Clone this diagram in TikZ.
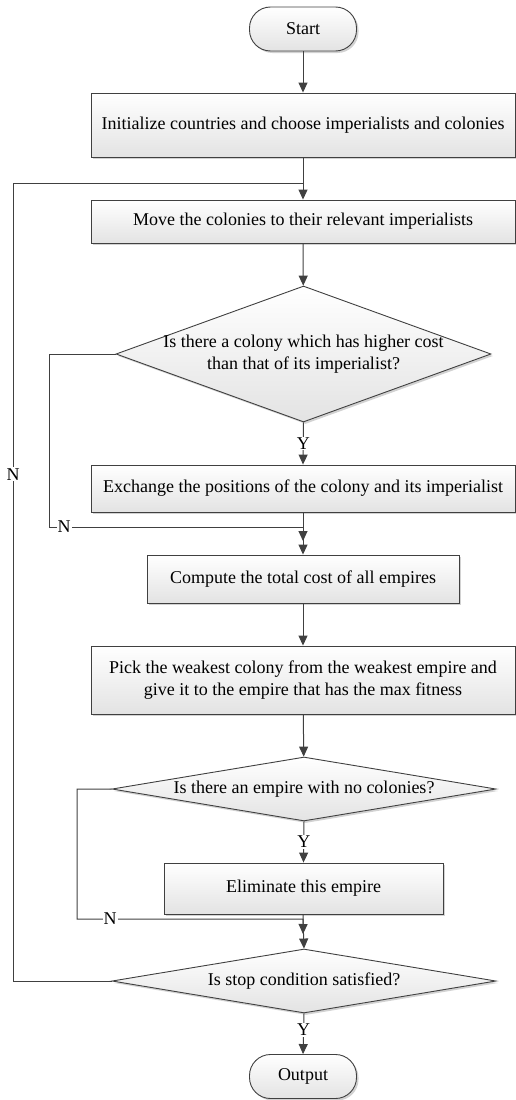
\documentclass[tikz,border=0pt]{standalone}
\usepackage{fontspec}
\setmainfont{Liberation Serif}
\usetikzlibrary{shapes.geometric,arrows.meta,shadows}
\definecolor{ln}{HTML}{404040}
\tikzset{
  base/.style={draw=ln, line width=0.9pt, top color=white, bottom color=gray!22,
    drop shadow={shadow xshift=2pt, shadow yshift=-2pt, fill=gray!50, opacity=0.7},
    font=\fontsize{18}{22}\selectfont, align=center, inner sep=0pt},
  procbox/.style={base, rectangle},
  term/.style={base, rectangle, rounded corners=21pt, minimum width=107pt, minimum height=44pt},
  dia/.style={base, diamond, inner sep=0pt},
  conn/.style={draw=ln, line width=1pt},
  arr/.style={conn, -{Triangle[length=10pt,width=9pt]}},
  lbl/.style={fill=white, inner sep=1pt, font=\fontsize{18}{22}\selectfont},
}
\begin{document}
\begin{tikzpicture}[x=1pt,y=-1pt]
\useasboundingbox (0,0) rectangle (515,1100);
\node[term] (start) at (303,29) {Start};
\node[procbox, minimum width=424pt, minimum height=64pt] (b1) at (303,125) {Initialize countries and choose imperialists and colonies};
\node[procbox, minimum width=424pt, minimum height=43pt] (b2) at (303,221.5) {Move the colonies to their relevant imperialists};
\node[dia, minimum width=375pt, minimum height=136pt,
  label={[font=\fontsize{18}{22}\selectfont, align=center]center:Is there a colony which has higher cost\\than that of its imperialist?}] (d1) at (303.5,354) {};
\node[procbox, minimum width=424pt, minimum height=47pt] (b3) at (303,488.5) {Exchange the positions of the colony and its imperialist};
\node[procbox, minimum width=312pt, minimum height=48pt] (b4) at (303,579) {Compute the total cost of all empires};
\node[procbox, minimum width=424pt, minimum height=68pt] (b5) at (303,680) {Pick the weakest colony from the weakest empire and\\give it to the empire that has the max fitness};
\node[dia, minimum width=384pt, minimum height=64pt,
  label={[font=\fontsize{18}{22}\selectfont]center:Is there an empire with no colonies?}] (d2) at (304,789) {};
\node[procbox, minimum width=279pt, minimum height=51pt] (b6) at (303.5,888.5) {Eliminate this empire};
\node[dia, minimum width=384pt, minimum height=64pt,
  label={[font=\fontsize{18}{22}\selectfont]center:Is stop condition satisfied?}] (d3) at (304,981) {};
\node[term] (out) at (303,1076.5) {Output};

\coordinate (j1) at (303,183);
\coordinate (j2) at (303,527);
\coordinate (j2e) at (303,541);
\coordinate (j3) at (303,919);
\coordinate (j3e) at (303,934);

\draw[arr] (start) -- (b1);
\draw[conn] (b1) -- (j1);
\draw[arr] (j1) -- (b2);
\draw[arr] (b2) -- (d1);
\draw[arr] (d1.south) -- node[lbl, pos=0.5]{Y} (b3.north);
\draw[arr] (b3) -- (j2e);
\draw[arr] (d1.west) -- (49,354) -- (49,527) -- node[lbl, pos=0.06]{N} (j2) -- (b4.north);
\draw[arr] (b4) -- (b5);
\draw[arr] (b5) -- (d2);
\draw[arr] (d2.south) -- node[lbl, pos=0.5]{Y} (b6.north);
\draw[arr] (b6) -- (j3e);
\draw[arr] (d2.west) -- (77,789) -- (77,919) -- node[lbl, pos=0.147]{N} (j3) -- (d3.north);
\draw[arr] (d3.south) -- node[lbl, pos=0.4]{Y} (out.north);
\draw[conn] (d3.west) -- (13,981) -- node[lbl, pos=0.635]{N} (13,183) -- (j1);
\end{tikzpicture}
\end{document}
